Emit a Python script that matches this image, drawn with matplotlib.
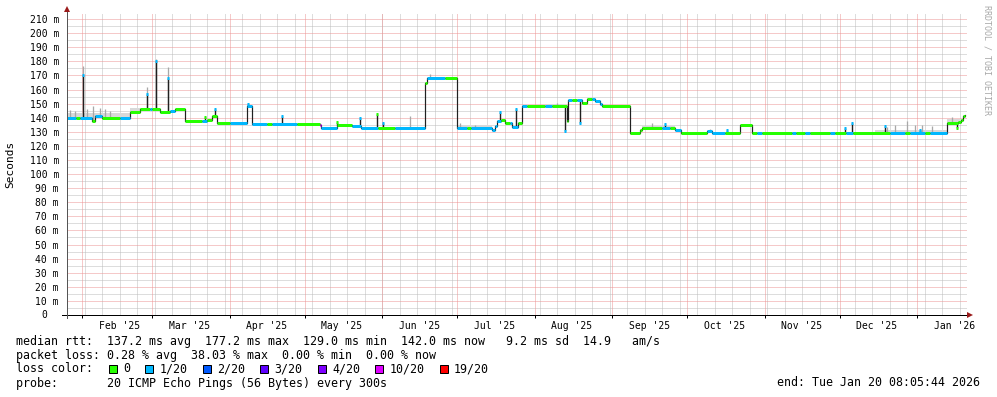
import numpy as np
import pandas as pd
import matplotlib
matplotlib.use("Agg")
import matplotlib.pyplot as plt
import matplotlib.dates as mdates
from matplotlib.lines import Line2D
from matplotlib.patches import Rectangle

# ---------------- data ----------------
seg_start = [
    "2025-01-25 00:00", "2025-01-29 12:00", "2025-01-31 00:00", "2025-02-05 00:00",
    "2025-02-06 00:00", "2025-02-09 00:00", "2025-02-16 00:00", "2025-02-20 00:00",
    "2025-02-24 00:00", "2025-02-28 00:00", "2025-03-01 00:00", "2025-03-04 00:00",
    "2025-03-08 00:00", "2025-03-10 00:00", "2025-03-14 00:00", "2025-03-21 00:00",
    "2025-03-23 00:00", "2025-03-25 00:00", "2025-03-27 00:00", "2025-04-01 00:00",
    "2025-04-08 00:00", "2025-04-10 00:00", "2025-04-16 00:00", "2025-04-18 00:00",
    "2025-04-28 00:00", "2025-05-07 00:00", "2025-05-07 12:00", "2025-05-14 00:00",
    "2025-05-20 00:00", "2025-05-23 12:00", "2025-05-30 12:00", "2025-06-06 00:00",
    "2025-06-18 00:00", "2025-06-19 00:00", "2025-06-26 00:00", "2025-06-30 22:00",
    "2025-07-05 00:00", "2025-07-06 12:00", "2025-07-15 00:00", "2025-07-16 00:00",
    "2025-07-17 00:00", "2025-07-18 12:00", "2025-07-20 00:00", "2025-07-22 00:00",
    "2025-07-23 00:00", "2025-07-25 12:00", "2025-07-27 00:00", "2025-07-29 00:00",
    "2025-08-05 00:00", "2025-08-08 00:00", "2025-08-14 00:00", "2025-08-14 12:00",
    "2025-08-16 00:00", "2025-08-18 00:00", "2025-08-20 00:00", "2025-08-22 00:00",
    "2025-08-24 00:00", "2025-08-25 00:00", "2025-08-27 00:00", "2025-08-28 00:00",
    "2025-09-08 00:00", "2025-09-12 00:00", "2025-09-13 00:00", "2025-09-21 00:00",
    "2025-09-24 00:00", "2025-09-26 00:00", "2025-09-28 12:00", "2025-10-09 00:00",
    "2025-10-11 00:00", "2025-10-16 00:00", "2025-10-22 00:00", "2025-10-27 00:00",
    "2025-10-29 00:00", "2025-10-31 00:00", "2025-11-12 00:00", "2025-11-13 12:00",
    "2025-11-17 00:00", "2025-11-19 00:00", "2025-11-27 00:00", "2025-11-29 00:00",
    "2025-12-03 12:00", "2025-12-06 12:00", "2025-12-21 00:00", "2025-12-27 00:00",
    "2025-12-29 00:00", "2026-01-04 00:00", "2026-01-06 00:00", "2026-01-13 00:00",
    "2026-01-17 12:00", "2026-01-18 12:00", "2026-01-19 12:00", "2026-01-20 00:00",
]
seg_level = [
    140.0, 140.0, 140.0, 138.0, 141.0, 140.0, 140.0, 144.0,
    146.0, 146.5, 146.0, 144.0, 144.5, 146.0, 138.0, 138.0,
    138.5, 141.5, 136.0, 136.0, 148.0, 135.5, 135.5, 135.5,
    135.5, 134.5, 133.0, 135.0, 134.0, 133.0, 133.0, 132.5,
    164.5, 168.5, 168.5, 132.5, 132.5, 132.5, 131.0, 134.0,
    138.0, 138.5, 136.5, 136.0, 133.5, 136.5, 148.0, 148.0,
    148.0, 148.0, 138.0, 152.5, 152.5, 152.5, 150.5, 153.5,
    153.5, 152.0, 149.5, 148.5, 129.5, 131.0, 132.5, 132.5,
    132.5, 131.5, 129.5, 130.5, 129.5, 129.5, 135.0, 129.5,
    129.5, 129.5, 129.5, 129.5, 129.5, 129.5, 129.5, 129.5,
    129.5, 129.5, 129.5, 129.5, 129.5, 129.5, 129.5, 136.5,
    137.0, 138.5, 141.0, 142.0,
]
# index into loss_colors (0 -> 0, 1 -> 1/20, 5 -> 10/20)
seg_loss = [
    1, 0, 1, 0, 1, 0, 1, 0,
    0, 1, 0, 0, 1, 0, 0, 1,
    0, 0, 0, 1, 1, 1, 0, 1,
    0, 5, 1, 0, 1, 1, 0, 1,
    0, 1, 0, 1, 0, 1, 1, 1,
    1, 0, 0, 1, 1, 0, 1, 0,
    1, 0, 0, 1, 0, 1, 0, 0,
    1, 1, 1, 0, 0, 0, 0, 1,
    0, 1, 0, 1, 1, 0, 0, 0,
    1, 0, 1, 0, 1, 0, 1, 0,
    1, 0, 1, 0, 1, 0, 1, 0,
    0, 0, 0, 0,
]
data_end = "2026-01-20 08:05"

spike_date = [
    "2025-02-01 06:00", "2025-02-27 00:00", "2025-03-02 18:00", "2025-03-07 12:00",
    "2025-03-22 00:00", "2025-03-26 00:00", "2025-04-08 12:00", "2025-04-22 00:00",
    "2025-05-14 00:00", "2025-05-23 00:00", "2025-05-30 00:00", "2025-06-01 12:00",
    "2025-07-18 00:00", "2025-07-24 12:00", "2025-08-13 00:00", "2025-08-19 00:00",
    "2025-09-22 00:00", "2025-10-17 00:00", "2025-12-03 00:00", "2025-12-06 00:00",
    "2025-12-19 00:00", "2026-01-02 00:00", "2026-01-17 00:00",
]
spike_value = [170, 157, 180, 168, 140.5, 146, 149.5, 141.5, 137, 140, 142.5, 136,
               144, 146.5, 130.5, 136, 135.5, 131, 132.5, 136.5, 134, 131, 133]
spike_loss = [1, 1, 1, 1, 0, 1, 1, 1, 0, 1, 0, 1, 1, 1, 1, 1, 1, 1, 1, 1, 1, 1, 0]

smoke_start = ["2025-01-25 00:00", "2025-02-20 00:00", "2025-06-30 22:00", "2025-08-06 00:00",
               "2025-09-13 00:00", "2025-12-15 00:00", "2026-01-13 00:00"]
smoke_end = ["2025-02-20 00:00", "2025-02-25 00:00", "2025-07-15 00:00", "2025-08-13 00:00",
             "2025-09-26 00:00", "2026-01-13 00:00", "2026-01-20 08:05"]
smoke_top = [143.5, 147.0, 134.5, 149.5, 134.0, 131.5, 139.0]

smoke_spike_date = [
    "2025-01-27 00:00", "2025-01-29 00:00", "2025-02-01 06:00", "2025-02-03 00:00",
    "2025-02-05 12:00", "2025-02-08 00:00", "2025-02-10 00:00", "2025-02-12 00:00",
    "2025-02-27 00:00", "2025-03-02 18:00", "2025-03-07 12:00", "2025-04-08 12:00",
    "2025-06-12 00:00", "2025-06-20 00:00", "2025-07-02 00:00", "2025-07-08 00:00",
    "2025-08-10 00:00", "2025-09-17 00:00", "2025-10-10 00:00", "2025-12-20 00:00",
    "2025-12-23 00:00", "2025-12-28 00:00", "2025-12-31 00:00", "2026-01-03 00:00",
    "2026-01-07 00:00", "2026-01-15 00:00",
]
smoke_spike_top = [145.5, 144.5, 177, 146, 148.5, 147, 146.5, 145, 162, 181.5,
                   176, 150.5, 141.5, 171, 136, 135, 150.5, 136, 132, 133.5,
                   134.5, 137.5, 135, 134.5, 134, 140.5]

loss_labels = ["0", "1/20", "2/20", "3/20", "4/20", "10/20", "19/20"]
loss_colors = ["#26ff00", "#00b8ff", "#0059ff", "#5e00ff", "#7e00ff", "#dd00ff", "#ff0000"]

y_ticks = list(range(0, 211, 10))
month_starts = ["2025-02-01", "2025-03-01", "2025-04-01", "2025-05-01", "2025-06-01",
                "2025-07-01", "2025-08-01", "2025-09-01", "2025-10-01", "2025-11-01",
                "2025-12-01", "2026-01-01"]
month_labels = ["Feb '25", "Mar '25", "Apr '25", "May '25", "Jun '25", "Jul '25",
                "Aug '25", "Sep '25", "Oct '25", "Nov '25", "Dec '25", "Jan '26"]

stats_rtt = "median rtt:  137.2 ms avg  177.2 ms max  129.0 ms min  142.0 ms now   9.2 ms sd  14.9   am/s"
stats_loss = "packet loss: 0.28 % avg  38.03 % max  0.00 % min  0.00 % now"
probe_text = "probe:       20 ICMP Echo Pings (56 Bytes) every 300s"
end_text = "end: Tue Jan 20 08:05:44 2026"


def to_num(strings):
    return mdates.date2num(pd.to_datetime(strings, format="mixed"))


# ---------------- figure ----------------
W, H = 997, 397
MONO = "DejaVu Sans Mono"
PX = 72.0 / 100.0  # points per pixel

fig = plt.figure(figsize=(W / 100, H / 100), dpi=100)
fig.patch.set_facecolor("white")
ax = fig.add_axes([67 / W, 1 - 315 / H, 900 / W, 302 / H])
for s in ax.spines.values():
    s.set_visible(False)

x_start = pd.Timestamp("2025-01-26")
x_end = pd.Timestamp("2026-01-21")
ax.set_xlim(x_start, x_end)
ax.set_ylim(0, 214.3)

# grid (dotted, 1 px)
gray = "#bdbdbd"
red = "#ec9494"
dot = (0, (1, 1))
grid_kw = dict(lw=PX, ls=dot, snap=True)
for d in pd.date_range(x_start, x_end, freq="W-SUN"):
    ax.axvline(d, color=gray, zorder=0.5, **grid_kw)
for v in range(5, 215, 5):
    if v % 10:
        ax.axhline(v, color=gray, zorder=0.5, **grid_kw)
for d in pd.to_datetime(month_starts):
    ax.axvline(d, color=red, zorder=0.6, **grid_kw)
for v in y_ticks[1:]:
    ax.axhline(v, color=red, zorder=0.6, **grid_kw)

# series
t_seg = to_num(seg_start)
t_end = mdates.date2num(pd.Timestamp(data_end))
lev = np.array(seg_level, dtype=float)
edges = np.append(t_seg, t_end)


def base_at(t):
    i = np.searchsorted(t_seg, np.atleast_1d(t), side="right") - 1
    return lev[np.clip(i, 0, len(lev) - 1)]


# smoke bands
for ts, te, top in zip(to_num(smoke_start), to_num(smoke_end), smoke_top):
    inner = t_seg[(t_seg > ts) & (t_seg < te)]
    xs = np.concatenate([[ts], inner, [te]])
    ys = base_at(xs)
    ax.fill_between(xs, ys, np.maximum(top, ys), step="post", color="#d8d8d8",
                    lw=0, zorder=1)

# smoke streaks
t_ss = to_num(smoke_spike_date)
ax.vlines(t_ss, base_at(t_ss), smoke_spike_top, color="#a8a8a8", lw=1.3 * PX, zorder=1.2)

# median black line
ax.step(edges, np.append(lev, lev[-1]), where="post", color="#202020", lw=1.2 * PX, zorder=2)
t_sp = to_num(spike_date)
ax.vlines(t_sp, base_at(t_sp), spike_value, color="#202020", lw=1.4 * PX, zorder=2)

# loss-coloured median bands
ax.hlines(lev, edges[:-1], edges[1:], colors=[loss_colors[k] for k in seg_loss],
          lw=3.0 * PX, zorder=3)
ax.hlines(spike_value, t_sp - 0.4, t_sp + 0.4, colors=[loss_colors[k] for k in spike_loss],
          lw=3.0 * PX, zorder=3)

# ticks
label_pos = pd.to_datetime(month_starts) + pd.Timedelta(days=15)
ax.set_xticks(mdates.date2num(label_pos))
ax.set_xticklabels(month_labels, fontfamily=MONO, fontsize=7)
ax.set_xticks(to_num(month_starts), minor=True)
ax.tick_params(axis="x", which="major", length=0, pad=4.0)
ax.tick_params(axis="x", which="minor", length=3 * PX, width=PX, color="black", direction="out")
ax.set_yticks(y_ticks)
ax.set_yticklabels([f"{v} m" if v else "" for v in y_ticks], fontfamily=MONO, fontsize=7)
ax.tick_params(axis="y", length=0, pad=5.8)
ax.text(-20 / 900, 0, "0", transform=ax.get_yaxis_transform(), ha="right", va="center",
        fontfamily=MONO, fontsize=7)

# axis lines and arrows
fy = lambda py: 1 - py / H
fig.add_artist(Line2D([62 / W, 969 / W], [fy(315), fy(315)], color="black", lw=1.0 * PX))
fig.add_artist(Line2D([67 / W, 67 / W], [fy(318), fy(10)], color="#555555", lw=1.0 * PX))
fig.add_artist(Line2D([67 / W], [fy(9)], marker="^", markersize=4.5, color="#9a1a1a",
                      markeredgewidth=0, transform=fig.transFigure))
fig.add_artist(Line2D([970 / W], [fy(315)], marker=">", markersize=4.5, color="#9a1a1a",
                      markeredgewidth=0, transform=fig.transFigure))

# axis title and watermark
fig.text(10 / W, fy(164), "Seconds", rotation=90, ha="center", va="center",
         fontfamily=MONO, fontsize=8)
fig.text(987 / W, fy(5), "RRDTOOL / TOBI OETIKER", rotation=270, ha="center", va="top",
         fontfamily=MONO, fontsize=6, color="#a8a8a8")

# legend
LFS = 8.37
fig.text(16 / W, fy(341), stats_rtt, ha="left", va="center", fontfamily=MONO, fontsize=LFS)
fig.text(16 / W, fy(355), stats_loss, ha="left", va="center", fontfamily=MONO, fontsize=LFS)
fig.text(16 / W, fy(369), "loss color:", ha="left", va="center", fontfamily=MONO, fontsize=LFS)
cw = 7.0
bx = 108.5
for lab, col in zip(loss_labels, loss_colors):
    fig.add_artist(Rectangle((bx / W, fy(373)), 8 / W, 8 / H, transform=fig.transFigure,
                             facecolor=col, edgecolor="black", lw=PX))
    tx = bx + 14.5
    fig.text(tx / W, fy(369), lab, ha="left", va="center", fontfamily=MONO, fontsize=LFS)
    bx = tx + len(lab) * cw + 15
fig.text(16 / W, fy(383), probe_text, ha="left", va="center", fontfamily=MONO, fontsize=LFS)
fig.text(980 / W, fy(383), end_text, ha="right", va="center", fontfamily=MONO, fontsize=LFS)

fig.savefig("out.png", dpi=100, facecolor="white")
